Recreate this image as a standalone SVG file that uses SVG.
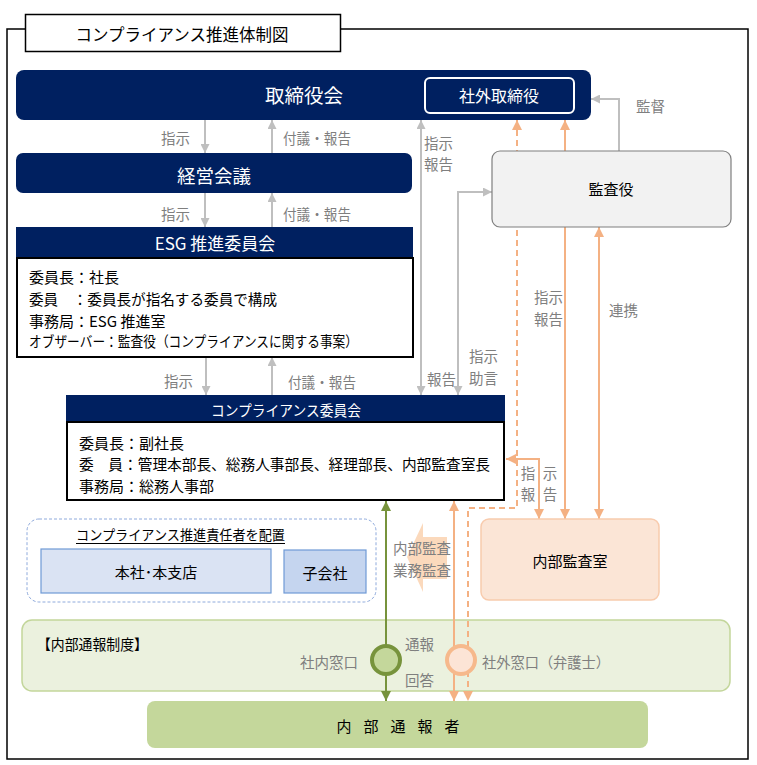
<svg xmlns="http://www.w3.org/2000/svg" width="757" height="765" viewBox="0 0 757 765">
<style>
text{font-family:"Noto Sans CJK JP","Noto Sans",sans-serif;dominant-baseline:central}
.w{fill:#fff}
.k{fill:#000}
.g{fill:#7f7f7f;font-size:14.5px}
.navy{fill:#002060}
.cg{fill:none;stroke:#bfbfbf;stroke-width:2}
.co{fill:none;stroke:#f4b183;stroke-width:2}
.cgr{fill:none;stroke:#77933c;stroke-width:2}
</style>
<defs>
<marker id="ag" viewBox="0 0 10 10" refX="10" refY="5" markerWidth="9" markerHeight="9" markerUnits="userSpaceOnUse" orient="auto-start-reverse"><path d="M0,0L10,5L0,10z" fill="#bfbfbf"/></marker>
<marker id="ao" viewBox="0 0 10 10" refX="10" refY="5" markerWidth="10" markerHeight="10" markerUnits="userSpaceOnUse" orient="auto-start-reverse"><path d="M0,0L10,5L0,10z" fill="#f4b183"/></marker>
<marker id="agr" viewBox="0 0 10 10" refX="10" refY="5" markerWidth="10" markerHeight="10" markerUnits="userSpaceOnUse" orient="auto-start-reverse"><path d="M0,0L10,5L0,10z" fill="#77933c"/></marker>
</defs>
<rect width="757" height="765" fill="#fff"/>
<rect x="7" y="29" width="741" height="730" fill="none" stroke="#000" stroke-width="1.5"/>
<g id="title">
<rect x="25.5" y="14.5" width="315" height="37" fill="#fff" stroke="#000" stroke-width="1.5"/>
<text x="182" y="34" class="k" font-size="16.5" text-anchor="middle">コンプライアンス推進体制図</text>
</g>
<g id="whistle-system">
<rect x="22" y="620" width="708" height="71" rx="10" fill="#ebf1de" stroke="#c3d69b" stroke-width="1.5"/>
<text x="37" y="643" class="k" font-size="14.5" textLength="111" lengthAdjust="spacingAndGlyphs">【内部通報制度】</text>
<text x="358" y="661" class="g" text-anchor="end">社内窓口</text>
<text x="482" y="661" class="g" textLength="128" lengthAdjust="spacingAndGlyphs">社外窓口（弁護士）</text>
</g>
<g id="promotion-group">
<rect x="27" y="519" width="349" height="83" rx="12" fill="none" stroke="#8faadc" stroke-width="1" stroke-dasharray="3,2"/>
<text x="76" y="534" class="k" font-size="14" textLength="209" lengthAdjust="spacingAndGlyphs">コンプライアンス推進責任者を配置</text>
<line x1="76" y1="543.5" x2="285" y2="543.5" stroke="#000" stroke-width="1"/>
</g>
<g id="audit-arrow">
<polygon points="407,557 423,523 423,537 447,537 447,579 423,579 423,592" fill="#fbd5b5" opacity="0.9"/>
<text x="422" y="547" class="g" font-size="15" text-anchor="middle">内部監査</text>
<text x="422" y="569" class="g" font-size="15" text-anchor="middle">業務監査</text>
</g>
<g id="connectors">
<path class="cg" d="M205,120V153" marker-end="url(#ag)"/>
<path class="cg" d="M272,153V120" marker-end="url(#ag)"/>
<path class="cg" d="M205,193V227" marker-end="url(#ag)"/>
<path class="cg" d="M272,227V193" marker-end="url(#ag)"/>
<path class="cg" d="M206,357V395" marker-end="url(#ag)"/>
<path class="cg" d="M272,395V357" marker-end="url(#ag)"/>
<path class="cg" d="M421,120V395" marker-start="url(#ag)" marker-end="url(#ag)"/>
<path class="cg" d="M492,192H458V395" marker-start="url(#ag)" marker-end="url(#ag)"/>
<path class="cg" d="M619,151V99H591" marker-end="url(#ag)"/>
<path class="co" d="M565,120V519" marker-start="url(#ao)" marker-end="url(#ao)"/>
<path class="co" d="M599,227V519" marker-start="url(#ao)" marker-end="url(#ao)"/>
<path class="co" d="M517,120V508H468V701" stroke-dasharray="6,4" marker-start="url(#ao)" marker-end="url(#ao)"/>
<path class="co" d="M506,459H539V519" marker-start="url(#ao)" marker-end="url(#ao)"/>
<path class="co" d="M454,501V701" marker-start="url(#ao)" marker-end="url(#ao)"/>
<path class="cgr" d="M386,501V701" marker-start="url(#agr)" marker-end="url(#agr)"/>
<text x="190" y="137" class="g" text-anchor="end">指示</text>
<text x="283" y="137" class="g" textLength="68" lengthAdjust="spacingAndGlyphs">付議・報告</text>
<text x="190" y="213" class="g" text-anchor="end">指示</text>
<text x="283" y="213" class="g" textLength="68" lengthAdjust="spacingAndGlyphs">付議・報告</text>
<text x="193" y="380" class="g" text-anchor="end">指示</text>
<text x="288" y="381" class="g" textLength="68" lengthAdjust="spacingAndGlyphs">付議・報告</text>
<text x="424" y="142" class="g">指示</text>
<text x="424" y="163" class="g">報告</text>
<text x="427" y="378" class="g">報告</text>
<text x="469" y="355" class="g">指示</text>
<text x="469" y="377" class="g">助言</text>
<text x="534" y="296" class="g">指示</text>
<text x="534" y="318" class="g">報告</text>
<text x="609" y="309" class="g">連携</text>
<text x="636" y="105" class="g">監督</text>
<text x="528 550" y="472" class="g" text-anchor="middle">指示</text>
<text x="528 550" y="493" class="g" text-anchor="middle">報告</text>
<text x="405" y="643" class="g">通報</text>
<text x="405" y="679" class="g">回答</text>
</g>
<g id="board">
<rect x="16" y="70" width="575" height="50" rx="8" class="navy"/>
<text x="304" y="94" class="w" font-size="19.5" text-anchor="middle">取締役会</text>
</g>
<g id="outside-directors">
<rect x="425" y="78" width="149" height="35" rx="5" fill="none" stroke="#fff" stroke-width="2"/>
<text x="499" y="95" class="w" font-size="16" text-anchor="middle">社外取締役</text>
</g>
<g id="management-meeting">
<rect x="16" y="153" width="396" height="40" rx="7" class="navy"/>
<text x="214" y="175" class="w" font-size="18.5" text-anchor="middle">経営会議</text>
</g>
<g id="esg-committee">
<rect x="16" y="227" width="397" height="31" class="navy"/>
<text x="215" y="242" class="w" font-size="17" text-anchor="middle">ESG 推進委員会</text>
<rect x="17" y="258" width="396" height="99" fill="#fff" stroke="#000" stroke-width="2"/>
<text x="29" y="276" class="k" font-size="15">委員長：社長</text>
<text x="29" y="298" class="k" font-size="15" textLength="248" lengthAdjust="spacingAndGlyphs">委員　：委員長が指名する委員で構成</text>
<text x="29" y="320" class="k" font-size="15">事務局：ESG 推進室</text>
<text x="29" y="340" class="k" font-size="14.5" textLength="329" lengthAdjust="spacingAndGlyphs">オブザーバー：監査役（コンプライアンスに関する事案）</text>
</g>
<g id="compliance-committee">
<rect x="66" y="395" width="439" height="27" class="navy"/>
<text x="286" y="409" class="w" font-size="14.5" text-anchor="middle" textLength="150" lengthAdjust="spacingAndGlyphs">コンプライアンス委員会</text>
<rect x="67" y="422" width="437" height="78" fill="#fff" stroke="#000" stroke-width="2"/>
<text x="79" y="442" class="k" font-size="15">委員長：副社長</text>
<text x="79" y="463" class="k" font-size="15" textLength="411" lengthAdjust="spacingAndGlyphs">委　員：管理本部長、総務人事部長、経理部長、内部監査室長</text>
<text x="79" y="485" class="k" font-size="15">事務局：総務人事部</text>
</g>
<g id="auditor">
<rect x="492" y="151" width="239" height="76" rx="8" fill="#f2f2f2" stroke="#7f7f7f" stroke-width="1.2"/>
<text x="611" y="188" class="k" font-size="15" text-anchor="middle">監査役</text>
</g>
<g id="internal-audit">
<rect x="481" y="519" width="178" height="81" rx="8" fill="#fbe5d6" stroke="#f8cbad" stroke-width="1.5"/>
<text x="570" y="560" class="k" font-size="15" text-anchor="middle">内部監査室</text>
</g>
<g id="head-office">
<rect x="41" y="549" width="230" height="44" fill="#dae3f3" stroke="#6f9ad6" stroke-width="1.2"/>
<text x="156" y="571" class="k" font-size="15" text-anchor="middle">本社･本支店</text>
</g>
<g id="subsidiary">
<rect x="284" y="550" width="82" height="43" fill="#c5d5ef" stroke="#6f9ad6" stroke-width="1.2"/>
<text x="325" y="572" class="k" font-size="15" text-anchor="middle">子会社</text>
</g>
<g id="internal-window">
<circle cx="386" cy="660" r="14" fill="#c4d79b" stroke="#77933c" stroke-width="4"/>
</g>
<g id="external-window">
<circle cx="461" cy="660" r="14" fill="#fce4d6" stroke="#f6b98c" stroke-width="4"/>
</g>
<g id="whistleblower">
<rect x="147" y="701" width="501" height="47" rx="8" fill="#c4d79b"/>
<text x="344 371 398 425 452" y="725" class="k" font-size="15" text-anchor="middle">内部通報者</text>
</g>
</svg>
